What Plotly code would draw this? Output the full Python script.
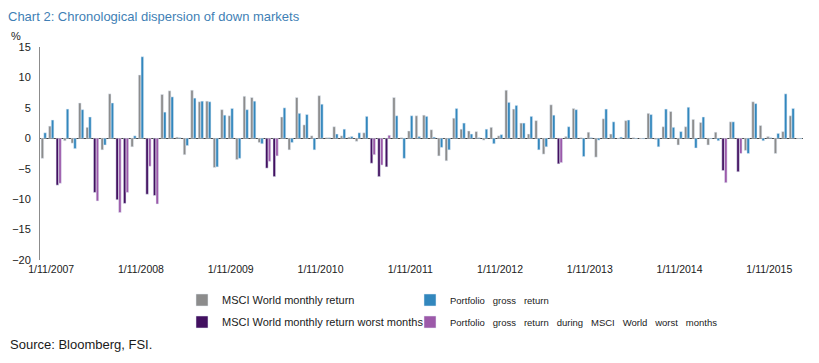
import pandas as pd
import plotly.graph_objects as go

# ---- data ----
months = [p.strftime("%b %Y") for p in pd.period_range("2007-10", "2016-03", freq="M")]

msci_return = [
    -3.3, 2.0, -7.7, -0.4, -0.8, 5.8, 1.8, -8.9, -1.9, 7.3,
    -10.1, -10.7, -1.4, 10.4, -9.2, -9.4, 7.2, 7.8, 0.2, -2.7,
    7.9, 6.0, 6.1, -4.8, 4.7, 3.7, -3.5, 6.9, 6.7, -0.7,
    -4.9, -6.3, 3.5, -1.9, 6.7, 2.2, 0.4, 7.0, 0.1, 1.9,
    0.4, 0.2, -0.5, 0.9, -4.1, -6.3, -4.7, 6.7, 0.1, 1.2,
    3.7, 3.8, 1.4, -2.9, -3.7, 3.3, 1.5, 1.2, 1.1, -0.3,
    1.8, 0.4, 7.9, 4.8, 2.5, 0.7, 2.9, -2.6, 5.5, -4.2,
    0.3, 4.9, 0.1, 1.0, -3.1, 3.2, 0.7, -0.1, 2.9, 0.1,
    -0.1, 4.1, -0.2, 1.9, 4.4, -1.1, 1.9, 3.1, 2.6, -1.1,
    1.0, -5.3, 2.7, -5.5, -2.0, 6.0, 2.1, 0.3, -2.5, 1.1,
    3.7, -0.1,
]

portfolio_return = [
    0.9, 3.0, -7.4, 4.8, -1.7, 4.7, 3.5, -10.3, -1.1, 5.8,
    -12.2, -8.9, 0.4, 13.4, -4.6, -10.8, 4.3, 6.8, 0.1, -1.2,
    6.6, 6.1, 6.0, -4.7, 3.8, 4.9, -3.3, 4.7, 6.1, -0.9,
    -3.8, -2.9, 5.0, -0.7, 4.1, 3.9, -1.9, 5.6, 0.1, 0.7,
    1.5, 0.3, 0.9, 3.6, -2.7, -4.4, 0.5, 3.7, -3.3, 3.7,
    0.3, 3.6, 0.2, -1.5, -1.9, 4.9, 2.5, 0.7, 0.1, 1.5,
    -0.9, 0.6, 5.9, 5.4, 2.5, 3.6, -1.9, -1.4, 3.8, -4.0,
    1.9, 4.7, -3.0, 0.1, -0.3, 4.8, 2.7, 0.2, 3.0, -0.1,
    -0.1, 3.9, -1.4, 4.8, 1.8, 1.1, 5.1, -1.6, 3.5, -0.1,
    -0.4, -7.3, 2.7, -2.5, -2.5, 5.7, -0.4, 0.1, 0.8, 7.3,
    4.9, -0.1,
]

worst_months = ["Dec 2007", "May 2008", "Aug 2008", "Sep 2008", "Dec 2008", "Jan 2009",
                "Apr 2010", "May 2010", "Jun 2011", "Jul 2011", "Aug 2011",
                "Jul 2013", "May 2015", "Jul 2015"]

tick_months = ["Nov 2007", "Nov 2008", "Nov 2009", "Nov 2010", "Nov 2011",
               "Nov 2012", "Nov 2013", "Nov 2014", "Nov 2015"]
tick_labels = ["1/11/2007", "1/11/2008", "1/11/2009", "1/11/2010", "1/11/2011",
               "1/11/2012", "1/11/2013", "1/11/2014", "1/11/2015"]

# ---- split into normal / worst-month series ----
is_worst = [m in worst_months for m in months]
msci_normal = [None if w else v for v, w in zip(msci_return, is_worst)]
port_normal = [None if w else v for v, w in zip(portfolio_return, is_worst)]
msci_bad = [v if w else None for v, w in zip(msci_return, is_worst)]
port_bad = [v if w else None for v, w in zip(portfolio_return, is_worst)]

GREY = "#8c8c8c"
BLUE = "#3287bd"
DARK_PURPLE = "#421060"
LIGHT_PURPLE = "#9c59a9"
FONT = "Liberation Sans, Arial, sans-serif"
TXT = "#1a1a1a"

# figure is shown with the page's 8px body margin
W, H = 803, 347
L, R, T, B = 32, 8, 39, 95
PW, PH = W - L - R, H - T - B


def px_x(x):
    return (x - L) / PW


def px_y(y):
    return (H - B - y) / PH


NB = "\u00a0\u00a0\u00a0"

fig = go.Figure()
fig.add_trace(go.Bar(x=months, y=msci_normal, name="MSCI World monthly return",
                     marker_color=GREY, offsetgroup="msci", legend="legend",
                     legendgroup="g1"))
fig.add_trace(go.Bar(x=months, y=msci_bad, name="MSCI World monthly return worst months",
                     marker_color=DARK_PURPLE, offsetgroup="msci", legend="legend",
                     legendgroup="g3"))
fig.add_trace(go.Bar(x=months, y=port_normal, name=f"Portfolio{NB}gross{NB}return",
                     marker_color=BLUE, offsetgroup="port", legend="legend2",
                     legendgroup="g2"))
fig.add_trace(go.Bar(x=months, y=port_bad,
                     name=f"Portfolio{NB}gross{NB}return{NB}during{NB}MSCI{NB}World{NB}worst{NB}months",
                     marker_color=LIGHT_PURPLE, offsetgroup="port", legend="legend2",
                     legendgroup="g4"))


def legend_at(text_left, size):
    return dict(x=px_x(text_left - 40), y=px_y(303), xanchor="left", yanchor="middle",
                orientation="v", traceorder="grouped", tracegroupgap=3,
                bgcolor="rgba(0,0,0,0)",
                font=dict(family=FONT, size=size, color=TXT))


fig.update_layout(
    width=W, height=H,
    margin=dict(l=L, r=R, t=T, b=B, autoexpand=False),
    paper_bgcolor="white", plot_bgcolor="white",
    barmode="group", bargap=0.28, bargroupgap=0.05,
    showlegend=True,
    legend=legend_at(214, 11),
    legend2=legend_at(442, 9.5),
    title=dict(text="Chart 2: Chronological dispersion of down markets",
               x=0, xanchor="left", xref="container",
               y=1 - 8 / H, yanchor="middle", yref="container",
               font=dict(family=FONT, size=13, color="#3f7fb5")),
    xaxis=dict(type="category", categoryorder="array", categoryarray=months,
               tickmode="array", tickvals=tick_months, ticktext=tick_labels,
               showgrid=False, showline=False, zeroline=False, ticks="",
               ticklabelstandoff=1,
               tickfont=dict(family=FONT, size=10.5, color=TXT)),
    yaxis=dict(range=[-20, 15], tickmode="linear", tick0=-20, dtick=5,
               showgrid=False, showline=True, linecolor="#8c8c8c", linewidth=1,
               zeroline=True, zerolinecolor="#404040", zerolinewidth=1,
               ticks="", ticklabelstandoff=6,
               tickfont=dict(family=FONT, size=11, color=TXT)),
    annotations=[
        dict(text="%", xref="paper", yref="paper", x=px_x(8), y=px_y(28),
             xanchor="center", yanchor="middle", showarrow=False,
             font=dict(family=FONT, size=11, color=TXT)),
        dict(text="Source: Bloomberg, FSI.", xref="paper", yref="paper",
             x=px_x(0), y=px_y(336), xanchor="left", yanchor="middle", showarrow=False,
             font=dict(family=FONT, size=13, color=TXT)),
    ],
)

fig.write_html("out.html")
